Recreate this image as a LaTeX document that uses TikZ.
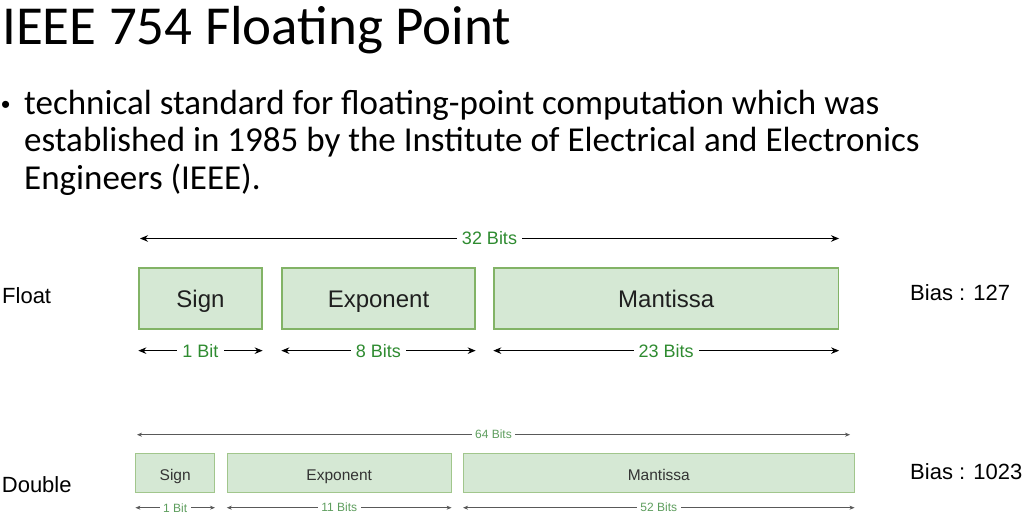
\documentclass[tikz,border=0pt]{standalone}
\usepackage{fontspec}
\setmainfont{Carlito}
\newfontfamily\arialf{Liberation Sans}
\usetikzlibrary{arrows.meta}
\definecolor{boxfill}{HTML}{D5E8D4}
\definecolor{boxline}{HTML}{82B366}
\definecolor{bitgreen}{HTML}{2E8B30}
\definecolor{bitgreensm}{HTML}{5E9E5E}
\begin{document}
\begin{tikzpicture}[
	x=1pt,y=-1pt,
	field/.style={draw=boxline,fill=boxfill,line width=1.3pt,inner sep=0pt,
		text=black!88,text height=18.4pt,text depth=0pt,font=\arialf\fontsize{24}{28}\selectfont},
	fieldsm/.style={field,draw=boxline!75,line width=1pt,text height=14pt,
		text=black!80,font=\arialf\fontsize{15.5}{18}\selectfont},
	span/.style={{Stealth[length=8pt,width=6.5pt]}-{Stealth[length=8pt,width=6.5pt]},line width=0.8pt},
	spansm/.style={{Stealth[length=5pt,width=4pt]}-{Stealth[length=5pt,width=4pt]},line width=0.6pt,black!65},
	bitlbl/.style={fill=white,inner xsep=5pt,inner ysep=2pt,text=bitgreen,font=\arialf\fontsize{18}{20}\selectfont},
	bitlblsm/.style={fill=white,inner xsep=3.5pt,inner ysep=1.5pt,text=bitgreensm,font=\arialf\fontsize{12}{13}\selectfont},
	side/.style={anchor=base west,inner sep=0pt,font=\arialf\fontsize{22}{26}\selectfont},
	bullet/.style={anchor=base west,inner sep=0pt,font=\fontsize{35}{40}\selectfont}
	]
	\useasboundingbox (0,0) rectangle (1033,518);
	
	% title and text
	\node[anchor=base west,inner sep=0pt,font=\fontsize{55}{60}\selectfont] (title) at (2,45) {IEEE 754 Floating Point};
	\node[bullet,font=\arialf\fontsize{26}{30}\selectfont] (dot) at (1,114) {•};
	\node[bullet] (bul1) at (24,115) {technical standard for floating-point computation which was};
	\node[bullet] (bul2) at (24,152) {established in 1985 by the Institute of Electrical and Electronics};
	\node[bullet] (bul3) at (24,190) {Engineers (IEEE).};
	
	% float
	\node[side] (float) at (2,304) {Float};
	\node[side] (biasF) at (910,301) {Bias : 127};
	\node[field,minimum width=123pt,minimum height=61pt] (signF) at (200.5,298.5) {Sign};
	\node[field,minimum width=193pt,minimum height=61pt] (expF) at (378.5,298.5) {Exponent};
	\node[field,minimum width=344.5pt,minimum height=61pt] (manF) at (666.2,298.5) {Mantissa};
	
	\coordinate (f32l) at (140,238.5);
	\coordinate (f32r) at (839,238.5);
	\draw[span] (f32l) -- node[bitlbl] (lblF) {32 Bits} (f32r);
	\draw[span] ([yshift=-21pt]signF.south west) -- node[bitlbl] (lblFs) {1 Bit} ([yshift=-21pt]signF.south east);
	\draw[span] ([yshift=-21pt]expF.south west) -- node[bitlbl] (lblFe) {8 Bits} ([yshift=-21pt]expF.south east);
	\draw[span] ([yshift=-21pt]manF.south west) -- node[bitlbl] (lblFm) {23 Bits} ([yshift=-21pt]manF.south east);
	
	% double
	\node[side] (double) at (1.7,492.7) {Double};
	\node[side] (biasD) at (910,479.3) {Bias : 1023};
	\node[fieldsm,minimum width=78.5pt,minimum height=39.4pt] (signD) at (175.2,473) {Sign};
	\node[fieldsm,minimum width=223.7pt,minimum height=39.4pt] (expD) at (339.2,473) {Exponent};
	\node[fieldsm,minimum width=390.4pt,minimum height=39.4pt] (manD) at (658.8,473) {Mantissa};
	
	\coordinate (d64l) at (137,434.7);
	\coordinate (d64r) at (850,434.7);
	\draw[spansm] (d64l) -- node[bitlblsm] (lblD) {64 Bits} (d64r);
	\draw[spansm] ([yshift=-14.5pt]signD.south west) -- node[bitlblsm] (lblDs) {1 Bit} ([yshift=-14.5pt]signD.south east);
	\draw[spansm] ([yshift=-14.5pt]expD.south west) -- node[bitlblsm] (lblDe) {11 Bits} ([yshift=-14.5pt]expD.south east);
	\draw[spansm] ([yshift=-14.5pt]manD.south west) -- node[bitlblsm] (lblDm) {52 Bits} ([yshift=-14.5pt]manD.south east);
\end{tikzpicture}
\end{document}
